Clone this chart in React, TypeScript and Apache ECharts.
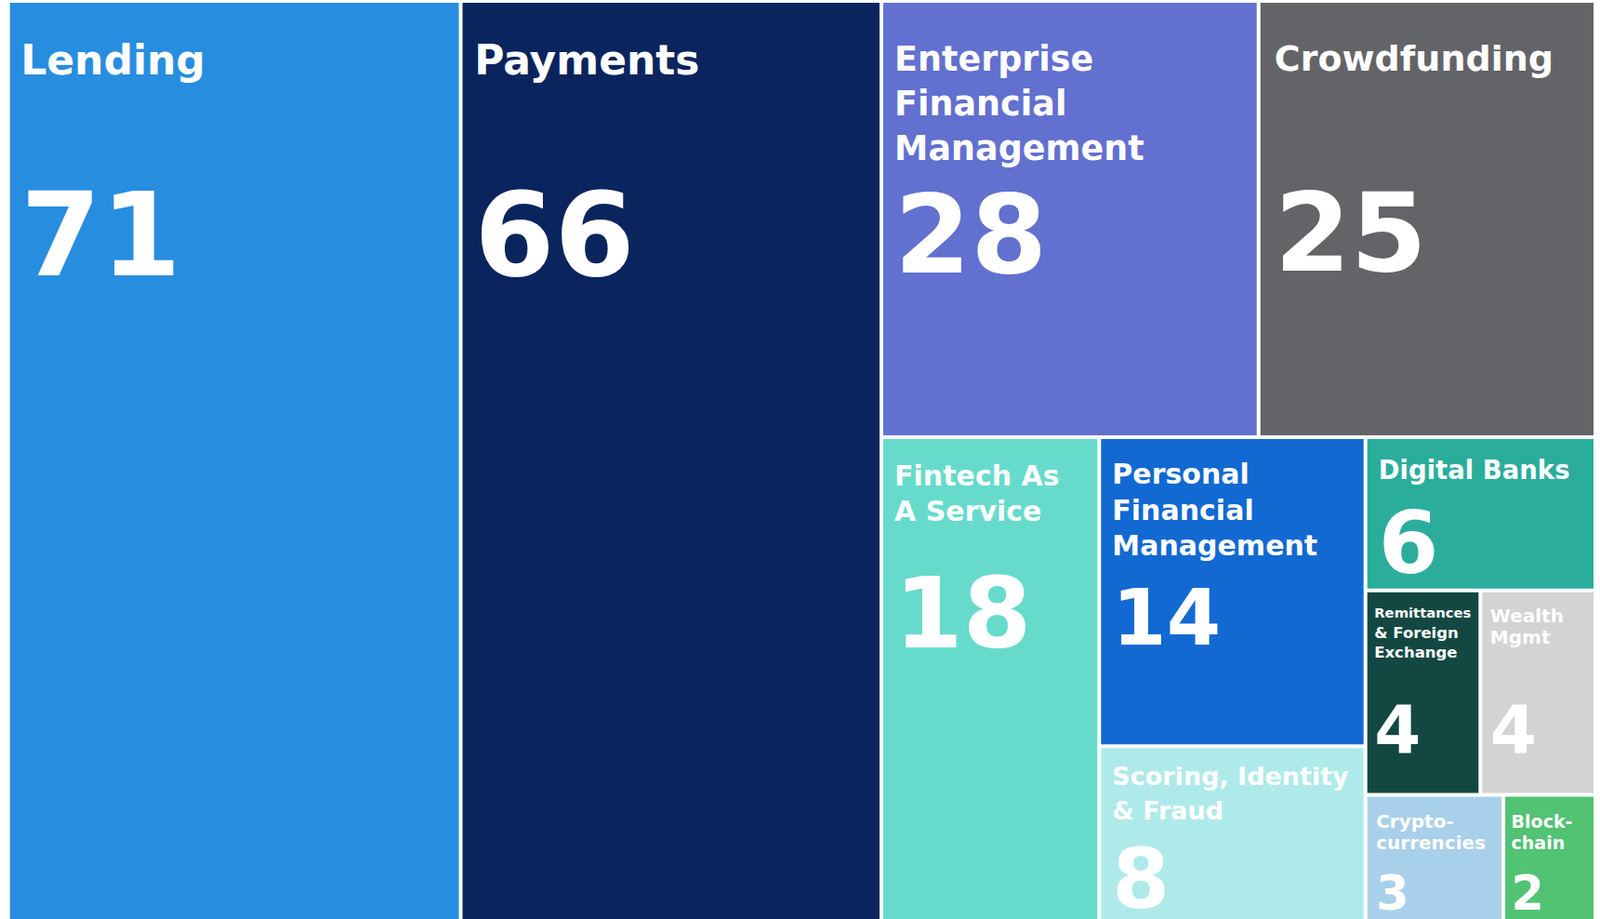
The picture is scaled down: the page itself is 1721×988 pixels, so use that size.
import React, { useEffect, useRef } from 'react';
import * as echarts from 'echarts';

// ---- data ----
// Ties are ordered by ECharts (desc sort) with the later data index first,
// so "Wealth Mgmt" precedes "Remittances" here to keep Remittances on the left.
const categories = [
  'Lending',
  'Payments',
  'Enterprise Financial Management',
  'Crowdfunding',
  'Fintech As A Service',
  'Personal Financial Management',
  'Scoring, Identity & Fraud',
  'Digital Banks',
  'Wealth Mgmt',
  'Remittances & Foreign Exchange',
  'Cryptocurrencies',
  'Blockchain',
];
const counts = [71, 66, 28, 25, 18, 14, 8, 6, 4, 4, 3, 2];
const labelLines = [
  ['Lending'],
  ['Payments'],
  ['Enterprise', 'Financial', 'Management'],
  ['Crowdfunding'],
  ['Fintech As', 'A Service'],
  ['Personal', 'Financial', 'Management'],
  ['Scoring, Identity', '& Fraud'],
  ['Digital Banks'],
  ['Wealth', 'Mgmt'],
  ['Remittances', '& Foreign', 'Exchange'],
  ['Crypto-', 'currencies'],
  ['Block-', 'chain'],
];
const colors = [
  '#278DDF',
  '#0A245E',
  '#6270CF',
  '#636468',
  '#66DBCC',
  '#1269D2',
  '#AFEAEA',
  '#2BAD9C',
  '#D3D3D3',
  '#134842',
  '#A9D0EA',
  '#52C273',
];

// ---- label typography per cell ----
type LS = { ns: number; fs?: number; lh: number; pt: number; pl: number; vs: number; vo: number };
const labelStyles: LS[] = [
  { ns: 44, lh: 52, pt: 35.8, pl: 11.5, vs: 124, vo: 161.8 },
  { ns: 44, lh: 52, pt: 35.8, pl: 12.7, vs: 124, vo: 161.8 },
  { ns: 36.5, lh: 48, pt: 36.1, pl: 12, vs: 118, vo: 68.6 },
  { ns: 38, lh: 48, pt: 36.4, pl: 15, vs: 118, vo: 162.8 },
  { ns: 30, lh: 38, pt: 20.6, pl: 12, vs: 106, vo: 91.4 },
  { ns: 30, lh: 38.3, pt: 18.6, pl: 12, vs: 84, vo: 59 },
  { ns: 27, lh: 36.7, pt: 12.3, pl: 12, vs: 89, vo: 55.2 },
  { ns: 27.5, lh: 34, pt: 16.2, pl: 12, vs: 93, vo: 61.6 },
  { ns: 20, lh: 23, pt: 13.3, pl: 8.5, vs: 72, vo: 87.5 },
  { ns: 16.5, fs: 14.8, lh: 21.7, pt: 10.7, pl: 7.5, vs: 72, vo: 71 },
  { ns: 20, lh: 23.3, pt: 14.8, pl: 9.5, vs: 51, vo: 42.7 },
  { ns: 19, lh: 23.3, pt: 14.8, pl: 6.5, vs: 51, vo: 42.7 },
];

const FONT = 'DejaVu Sans';

function buildData() {
  return categories.map((name, i) => {
    const s = labelStyles[i];
    const lines = labelLines[i];
    let text: string;
    if (s.fs) {
      text = `{f|${lines[0]}}` + (lines.length > 1 ? `\n{n|${lines.slice(1).join('\n')}}` : '');
    } else {
      text = `{n|${lines.join('\n')}}`;
    }
    text += `\n{v|${counts[i]}}`;
    return {
      name,
      value: counts[i],
      itemStyle: { color: colors[i] },
      label: {
        padding: [s.pt, 0, 0, s.pl],
        formatter: text,
        rich: {
          f: {
            fontFamily: FONT,
            fontWeight: 'bold',
            fontSize: s.fs || s.ns,
            lineHeight: s.lh,
            color: '#fff',
          },
          n: {
            fontFamily: FONT,
            fontWeight: 'bold',
            fontSize: s.ns,
            lineHeight: s.lh,
            color: '#fff',
          },
          v: {
            fontFamily: FONT,
            fontWeight: 'bold',
            fontSize: s.vs,
            color: '#fff',
            height: 0,
            padding: [s.vo, 0, 0, 0],
          },
        },
      },
    };
  });
}

export default function App() {
  const ref = useRef<HTMLDivElement>(null);
  useEffect(() => {
    if (!ref.current) return;
    const chart = echarts.init(ref.current, undefined, { renderer: 'svg' });
    chart.setOption({
      animation: false,
      backgroundColor: '#ffffff',
      series: [
        {
          type: 'treemap',
          left: 10.7,
          top: 3,
          width: 1703.3,
          height: 987,
          roam: false,
          nodeClick: false,
          sort: 'desc',
          squareRatio: 0.896,
          visibleMin: 0,
          breadcrumb: { show: false },
          itemStyle: { gapWidth: 4, borderWidth: 0, borderColor: '#ffffff' },
          label: {
            show: true,
            position: 'insideTopLeft',
            distance: 0,
            color: '#fff',
            fontFamily: FONT,
            fontWeight: 'bold',
          },
          emphasis: { disabled: true },
          data: buildData(),
        },
      ],
    });
    return () => chart.dispose();
  }, []);
  return (
    <div
      ref={ref}
      style={{ position: 'absolute', left: 0, top: 0, width: 1721, height: 988, overflow: 'hidden' }}
    />
  );
}
